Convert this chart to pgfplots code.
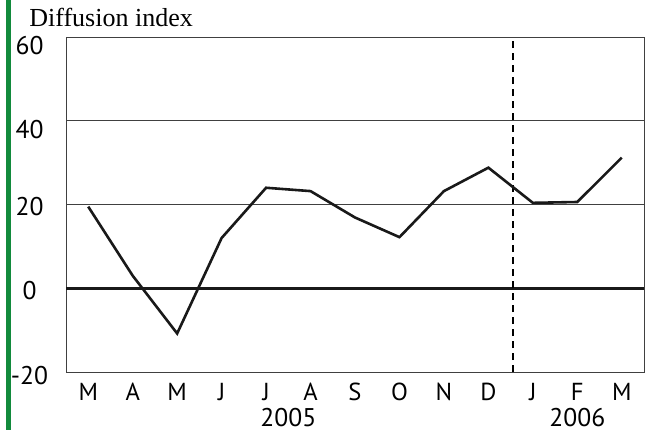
\documentclass[border=0pt]{standalone}
\usepackage{fontspec}
\setmainfont{Liberation Serif}
\newfontfamily\sansf{PT Sans}
\usepackage{pgfplots}
\pgfplotsset{compat=1.18}
\definecolor{barg}{RGB}{18,138,60}
\begin{document}
\begin{tikzpicture}
\path[use as bounding box] (0,0) rectangle (323pt,215pt);
\fill[barg] (3pt,0) rectangle (5.5pt,215pt);
\node[anchor=base west, inner sep=0, font=\fontsize{13}{15}\selectfont] at (14.5pt,202pt) {Diffusion index};
\begin{axis}[
  at={(33pt,29pt)}, anchor=south west,
  width=289pt, height=167.5pt, scale only axis,
  xmin=-0.5, xmax=12.5, ymin=-20, ymax=60,
  ytick={-20,0,20,40,60},
  yticklabels={\raisebox{-6.15pt}{-20},\raisebox{-5.4pt}{0},\raisebox{-5.4pt}{20},\raisebox{-8.65pt}{40},\raisebox{-8.65pt}{60}},
  yticklabel style={anchor=base, xshift=-18.25pt, inner sep=0pt, font=\sansf\fontsize{12.8}{14}\selectfont},
  xtick={0,...,12},
  xticklabels={M,A,M,J,J,A,S,O,N,D,J,F,M},
  xticklabel style={anchor=base, yshift=-14pt, font=\sansf\fontsize{12.3}{13}\selectfont},
  major tick length=0pt,
  ymajorgrids,
  grid style={line width=0.5pt, color=black!75},
  axis line style={line width=0.5pt, color=black!75},
  clip=false,
]
\addplot[line width=1.3pt, color=black!90, forget plot] coordinates {(-0.5,0) (12.5,0)};
\addplot[line width=0.8pt, color=black, dash pattern=on 3.5pt off 2.5pt, forget plot] coordinates {(9.55,-20) (9.55,60)};
\addplot[line width=1.3pt, color=black!90, mark=none] coordinates {
(0,19.5) (1,3.0) (2,-10.8) (3,12.0) (4,24.0) (5,23.2) (6,16.9) (7,12.2) (8,23.2) (9,28.8) (10,20.4) (11,20.6) (12,31.2)
};
\node[anchor=base, inner sep=0pt, yshift=-27pt, font=\sansf\fontsize{12.8}{14}\selectfont] at (axis cs:4.5,-20) {2005};
\node[anchor=base, inner sep=0pt, yshift=-27pt, font=\sansf\fontsize{12.8}{14}\selectfont] at (axis cs:11,-20) {2006};
\end{axis}
\end{tikzpicture}
\end{document}
